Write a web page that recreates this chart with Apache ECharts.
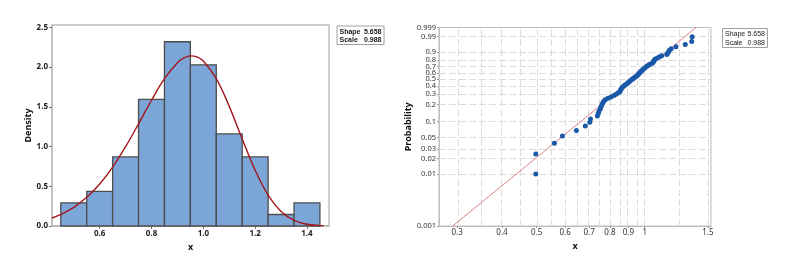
<!DOCTYPE html>
<html><head><meta charset="utf-8">
<script src="https://cdn.jsdelivr.net/npm/echarts@6/dist/echarts.min.js"></script>
<style>html,body{margin:0;padding:0;background:#fff}#c{width:789px;height:264px}</style>
</head><body><div id="c"></div>
<script>
// ---- Histogram (left) ----
const binLo = [0.45, 0.55, 0.65, 0.75, 0.85, 0.95, 1.05, 1.15, 1.25, 1.35];
const binHi = [0.55, 0.65, 0.75, 0.85, 0.95, 1.05, 1.15, 1.25, 1.35, 1.45];
const densities = [0.290, 0.435, 0.870, 1.594, 2.319, 2.029, 1.159, 0.870, 0.145, 0.290];
const curveX = [0.416, 0.45, 0.5, 0.55, 0.6, 0.65, 0.7, 0.75, 0.8, 0.85, 0.9, 0.925, 0.95, 0.975, 1.0, 1.05, 1.1, 1.15, 1.2, 1.25, 1.3, 1.35, 1.4, 1.45, 1.465];
const curveY = [0.101, 0.145, 0.235, 0.361, 0.529, 0.742, 0.998, 1.286, 1.583, 1.854, 2.056, 2.116, 2.141, 2.129, 2.077, 1.855, 1.506, 1.096, 0.703, 0.389, 0.183, 0.071, 0.022, 0.005, 0.003];
const histXTicks = [0.6, 0.8, 1.0, 1.2, 1.4];
const densTicks = [0, 0.5, 1.0, 1.5, 2.0, 2.5];
const params = [['Shape', '5.658'], ['Scale', '0.988']];

// ---- Probability plot (right) ----
const probX = [0.497, 0.497, 0.560, 0.5895, 0.645, 0.683, 0.703, 0.706, 0.738, 0.742, 0.746,
  0.752, 0.755, 0.759, 0.763, 0.768, 0.776, 0.790, 0.805, 0.820, 0.832, 0.842,
  0.852, 0.855, 0.858, 0.862, 0.868, 0.874, 0.882, 0.889, 0.896, 0.903, 0.910, 0.916, 0.923, 0.930, 0.938, 0.945,
  0.953, 0.958, 0.963, 0.968, 0.973, 0.978, 0.984, 0.990, 0.996, 1.003, 1.011, 1.019, 1.028, 1.038,
  1.052, 1.056, 1.060, 1.064, 1.070, 1.085, 1.100, 1.115,
  1.152, 1.158, 1.165, 1.172, 1.185, 1.222, 1.297, 1.352, 1.356];
const probP = [0.0101, 0.0245, 0.0389, 0.0533, 0.0677, 0.0821, 0.0965, 0.1110, 0.1254, 0.1398, 0.1542,
  0.1686, 0.1830, 0.1974, 0.2118, 0.2262, 0.2406, 0.2550, 0.2695, 0.2839, 0.2983, 0.3127,
  0.3271, 0.3415, 0.3559, 0.3703, 0.3847, 0.3991, 0.4135, 0.4280, 0.4424, 0.4568, 0.4712, 0.4856, 0.5000, 0.5144, 0.5288, 0.5432,
  0.5576, 0.5720, 0.5865, 0.6009, 0.6153, 0.6297, 0.6441, 0.6585, 0.6729, 0.6873, 0.7017, 0.7161, 0.7305, 0.7450,
  0.7594, 0.7738, 0.7882, 0.8026, 0.8170, 0.8314, 0.8458, 0.8602,
  0.8746, 0.8890, 0.9035, 0.9179, 0.9323, 0.9467, 0.9611, 0.9755, 0.9899];
const fitX = [0.2914, 1.390];
const fitP = [0.001, 0.999];
const probTicks = [0.001, 0.01, 0.02, 0.03, 0.05, 0.1, 0.2, 0.3, 0.4, 0.5, 0.6, 0.7, 0.8, 0.9, 0.99, 0.999];
const probGrid = [0.01, 0.02, 0.03, 0.05, 0.1, 0.2, 0.3, 0.4, 0.5, 0.6, 0.7, 0.8, 0.9, 0.99];
const xTicksRight = [0.3, 0.4, 0.5, 0.6, 0.7, 0.8, 0.9, 1, 1.5];
const xMinorRight = [0.35, 0.45, 0.55, 0.65, 0.75, 0.85, 0.95, 1.25];
const xRangeRight = [0.267, 1.53];

// axis transforms for the Weibull probability paper
const wb = p => Math.log(-Math.log(1 - p));
const lx = x => Math.log(x);
function nearestLabel(v, arr, tf) {
  let best = arr[0], bd = Infinity;
  arr.forEach(a => { const d = Math.abs(tf(a) - v); if (d < bd) { bd = d; best = a; } });
  return String(best);
}

const FONT = 'Noto Sans';
const frame = '#bdbdbd';
const chart = echarts.init(document.getElementById('c'), null, {renderer: 'canvas'});

function legendBox(x, y, w, h, bold) {
  const els = [{type: 'rect', z: 10, shape: {x: x, y: y, width: w, height: h},
    style: {fill: '#fff', stroke: '#a0a0a0', lineWidth: 1}}];
  params.forEach((r, i) => {
    const base = {fill: '#1a1a1a', fontFamily: 'Liberation Sans', fontSize: 7, fontWeight: bold ? 'bold' : 'normal', verticalAlign: 'top'};
    els.push({type: 'text', z: 11, x: x + 2.5, y: y + 2.5 + i * 8.3, style: Object.assign({text: r[0], align: 'left'}, base)});
    els.push({type: 'text', z: 11, x: x + w - 2.5, y: y + 2.5 + i * 8.3, style: Object.assign({text: r[1], align: 'right'}, base)});
  });
  return els;
}

const option = {
  animation: false,
  textStyle: {fontFamily: FONT},
  grid: [
    {left: 52, right: 789 - 329, top: 25, bottom: 38, show: true, borderColor: frame, borderWidth: 1.5},
    {left: 439, right: 789 - 711, top: 27.5, bottom: 38, show: true, borderColor: frame, borderWidth: 1}
  ],
  xAxis: [
    {gridIndex: 0, type: 'value', min: 0.416, max: 1.485,
      name: 'x', nameLocation: 'middle', nameGap: 13,
      nameTextStyle: {fontWeight: 'bold', fontSize: 9, color: '#111', fontFamily: FONT},
      axisLine: {show: true, onZero: false, lineStyle: {color: frame, width: 1.5}},
      axisTick: {show: true, length: 3, lineStyle: {color: '#777'}, customValues: histXTicks},
      axisLabel: {customValues: histXTicks, formatter: v => v.toFixed(1), fontSize: 8, fontWeight: 'bold', color: '#222', margin: 4},
      splitLine: {show: false}},
    {gridIndex: 1, type: 'value', min: lx(xRangeRight[0]), max: lx(xRangeRight[1]),
      name: 'x', nameLocation: 'middle', nameGap: 13,
      nameTextStyle: {fontWeight: 'bold', fontSize: 9, color: '#111', fontFamily: FONT},
      axisLine: {show: true, onZero: false, lineStyle: {color: frame}},
      axisTick: {show: true, length: 2, lineStyle: {color: '#999'}, customValues: xTicksRight.map(lx)},
      axisLabel: {customValues: xTicksRight.map(lx), formatter: v => nearestLabel(v, xTicksRight, lx), fontSize: 8, color: '#333', margin: 3},
      splitLine: {show: false}}
  ],
  yAxis: [
    {gridIndex: 0, type: 'value', min: 0, max: 2.53,
      name: 'Density', nameLocation: 'middle', nameGap: 18,
      nameTextStyle: {fontWeight: 'bold', fontSize: 9, color: '#111', fontFamily: FONT},
      axisLine: {show: true, onZero: false, lineStyle: {color: frame, width: 1.5}},
      axisTick: {show: true, length: 3, lineStyle: {color: '#777'}, customValues: densTicks},
      axisLabel: {customValues: densTicks, formatter: v => v.toFixed(1), fontSize: 8, fontWeight: 'bold', color: '#222', margin: 4},
      splitLine: {show: false}},
    {gridIndex: 1, type: 'value', min: wb(0.001), max: wb(0.999),
      name: 'Probability', nameLocation: 'middle', nameGap: 24,
      nameTextStyle: {fontWeight: 'bold', fontSize: 9, color: '#111', fontFamily: FONT},
      axisLine: {show: true, onZero: false, lineStyle: {color: frame}},
      axisTick: {show: true, length: 2, lineStyle: {color: '#999'}, customValues: probTicks.map(wb)},
      axisLabel: {customValues: probTicks.map(wb), formatter: v => nearestLabel(v, probTicks, wb), fontSize: 7.5, color: '#333', margin: 3},
      splitLine: {show: false}}
  ],
  series: [
    {type: 'custom', xAxisIndex: 0, yAxisIndex: 0, z: 2,
      data: binLo.map((lo, i) => [lo, binHi[i], densities[i]]),
      encode: {x: [0, 1], y: 2},
      renderItem: (p, api) => {
        const a = api.coord([api.value(0), api.value(2)]);
        const b = api.coord([api.value(1), 0]);
        return {type: 'rect', shape: {x: a[0], y: a[1], width: b[0] - a[0], height: b[1] - a[1]},
          style: {fill: '#7ca5d8', stroke: '#4d4d4d', lineWidth: 1.3}};
      }},
    {type: 'line', xAxisIndex: 0, yAxisIndex: 0, z: 3, smooth: 0.4, symbol: 'none',
      data: curveX.map((x, i) => [x, curveY[i]]),
      lineStyle: {color: '#a3161d', width: 1.4}},
    {type: 'line', xAxisIndex: 1, yAxisIndex: 1, z: 2, symbol: 'none',
      data: fitX.map((x, i) => [lx(x), wb(fitP[i])]),
      lineStyle: {color: '#d06464', width: 0.8},
      markLine: {silent: true, z: 1, symbol: 'none', label: {show: false}, animation: false,
        lineStyle: {color: '#dcdcdc', type: [7, 3], width: 1},
        data: [...xTicksRight, ...xMinorRight].map(v => ({xAxis: lx(v)}))
          .concat(probGrid.map(p => ({yAxis: wb(p)})))}},
    {type: 'scatter', xAxisIndex: 1, yAxisIndex: 1, z: 4, symbolSize: 5,
      data: probX.map((x, i) => [lx(x), wb(probP[i])]),
      itemStyle: {color: '#1a58a8', opacity: 1}}
  ],
  graphic: [
    ...legendBox(337, 26, 47, 18.5, true),
    ...legendBox(722.5, 28.5, 45, 19, false)
  ]
};
chart.setOption(option);
</script>
</body></html>
